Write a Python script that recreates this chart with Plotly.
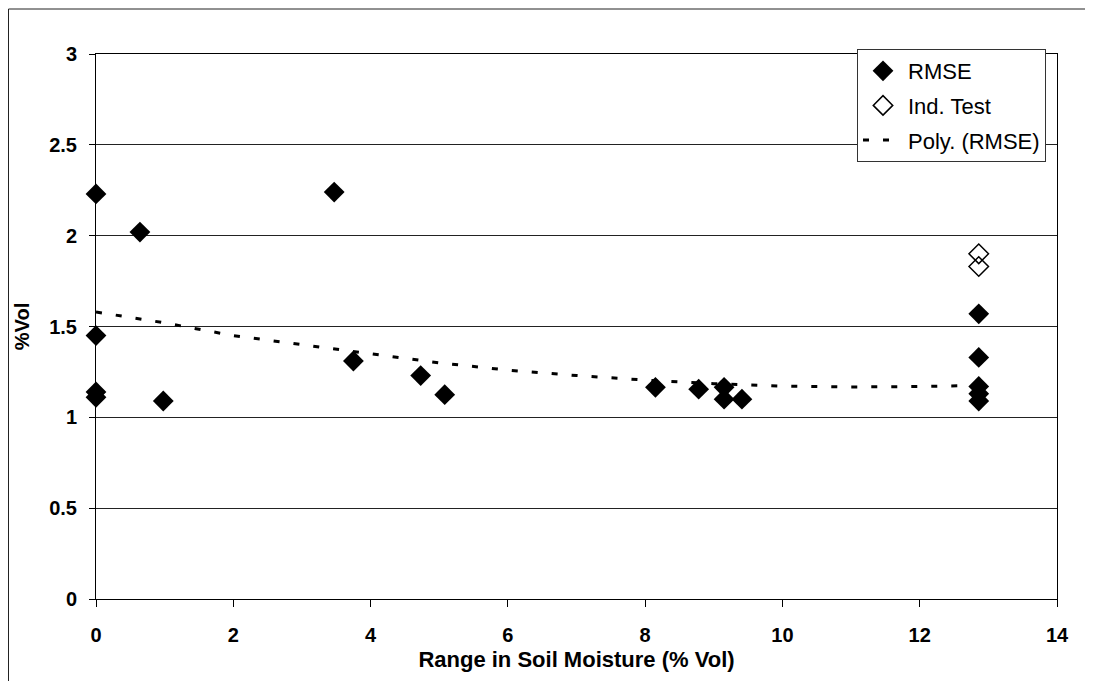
import plotly.graph_objects as go

# RMSE points
rmse_x = [0, 0, 0, 0, 0.64, 0.98, 3.47, 3.75, 4.73, 5.08, 8.15, 8.78, 9.15, 9.15, 9.41,
          12.86, 12.86, 12.86, 12.86, 12.86]
rmse_y = [2.23, 1.45, 1.14, 1.11, 2.02, 1.09, 2.24, 1.31, 1.23, 1.125, 1.165, 1.155, 1.165,
          1.10, 1.10, 1.57, 1.33, 1.17, 1.13, 1.09]

# Independent test points
ind_x = [12.86, 12.86]
ind_y = [1.90, 1.83]

# Polynomial trendline
trend_x = [0, 1, 2, 3, 4, 5, 6, 7, 8, 9, 10, 11, 12, 12.85]
trend_y = [1.58, 1.52, 1.45, 1.40, 1.35, 1.30, 1.26, 1.23, 1.205, 1.185, 1.172, 1.167, 1.17, 1.175]

x_ticks = [0, 2, 4, 6, 8, 10, 12, 14]
x_tick_labels = ["0", "2", "4", "6", "8", "10", "12", "14"]
y_ticks = [0, 0.5, 1, 1.5, 2, 2.5, 3]
y_tick_labels = ["0", "0.5", "1", "1.5", "2", "2.5", "3"]

FONT = "Liberation Sans, Arial, sans-serif"

# figure sits at an 8px page offset inside the 1093x681 window
W, H = 1085, 673
L, R, T, B = 88, 36, 46, 82
PW, PH = W - L - R, H - T - B

fig = go.Figure()
fig.add_trace(go.Scatter(
    x=rmse_x, y=rmse_y, mode="markers", name="RMSE",
    marker=dict(symbol="diamond", size=16, color="black", line=dict(width=0)),
    cliponaxis=False, legendgroup="a",
))
fig.add_trace(go.Scatter(
    x=ind_x, y=ind_y, mode="markers", name="Ind. Test",
    marker=dict(symbol="diamond-open", size=15, color="black", line=dict(width=1.5)),
    cliponaxis=False, legendgroup="b",
))
fig.add_trace(go.Scatter(
    x=trend_x, y=trend_y, mode="lines", name="Poly. (RMSE)",
    line=dict(color="black", width=3, dash="6px,14px"),
    cliponaxis=False, legendgroup="c",
))

fig.update_layout(
    width=W, height=H,
    margin=dict(l=L, r=R, t=T, b=B, pad=0),
    paper_bgcolor="white", plot_bgcolor="white",
    font=dict(family=FONT, color="black", size=18),
    showlegend=True,
    legend=dict(
        x=(1038 - L) / PW, y=1 + (T - 41) / PH, xanchor="right", yanchor="top",
        bgcolor="white", bordercolor="#333", borderwidth=1,
        font=dict(family=FONT, size=22, color="black"),
        traceorder="grouped", tracegroupgap=3,
        itemwidth=40,
    ),
    xaxis=dict(
        range=[0, 14], tickvals=x_ticks, ticktext=[f"<b>{t}</b>" for t in x_tick_labels],
        ticks="outside", ticklen=7, tickcolor="black", ticklabelstandoff=11,
        showgrid=False, zeroline=False,
        showline=True, linecolor="black", linewidth=1, mirror=True,
        tickfont=dict(family=FONT, size=20),
        title=dict(text="<b>Range in Soil Moisture (% Vol)</b>",
                   font=dict(family=FONT, size=22), standoff=6),
    ),
    yaxis=dict(
        range=[0, 3], tickvals=y_ticks, ticktext=[f"<b>{t}</b>" for t in y_tick_labels],
        ticks="outside", ticklen=6, tickcolor="black", ticklabelstandoff=8,
        showgrid=True, gridcolor="#222", gridwidth=1,
        zeroline=False, showline=True, linecolor="black", linewidth=1, mirror=True,
        tickfont=dict(family=FONT, size=20),
        title=dict(text="<b>%Vol</b>", font=dict(family=FONT, size=20), standoff=14),
    ),
    shapes=[
        # outer chart frame (left and top edges visible)
        dict(type="line", xref="paper", yref="paper",
             x0=(0.5 - L) / PW, x1=(0.5 - L) / PW,
             y0=1 + (T - 1) / PH, y1=-(B + 20) / PH, line=dict(color="#222", width=1)),
        dict(type="line", xref="paper", yref="paper",
             x0=(0.5 - L) / PW, x1=(W + 10 - L) / PW,
             y0=1 + (T - 1) / PH, y1=1 + (T - 1) / PH, line=dict(color="#222", width=1)),
    ],
)

fig.write_html("out.html")
